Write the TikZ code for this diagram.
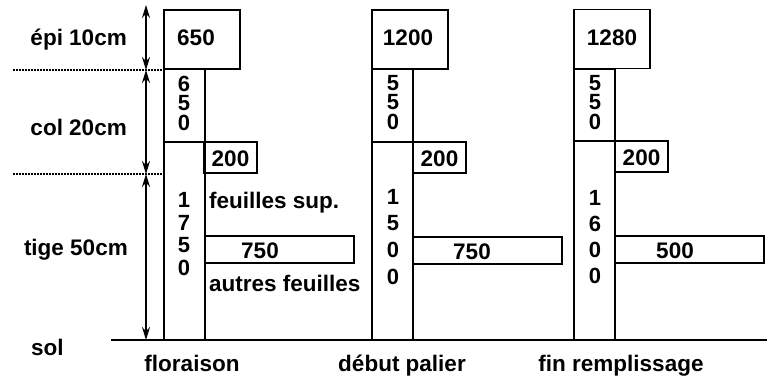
\documentclass[tikz,border=0pt]{standalone}
\usepackage{fontspec}
\setmainfont{Liberation Sans}
\usetikzlibrary{arrows.meta}
\tikzset{
  box/.style={draw, line width=1.8pt, inner sep=0pt, outer sep=0pt},
  lab/.style={font=\fontsize{22.5}{26}\selectfont\bfseries, inner sep=0pt},
  dig/.style={font=\fontsize{22}{26}\selectfont\bfseries, inner sep=0pt},
  dimarrow/.style={line width=1.8pt, {Stealth[length=13pt,width=8pt]}-{Stealth[length=13pt,width=8pt]}},
  guide/.style={line width=1.3pt, dash pattern=on 1.6pt off 1.4pt},
  groundline/.style={line width=2.6pt},
}
\begin{document}
\begin{tikzpicture}[x=1pt,y=-1pt]
\useasboundingbox (0,0) rectangle (767,376);
% ground
\coordinate (g0) at (111,340);
\coordinate (g1) at (767,340);
% ---- column 1 : floraison
\node[box, minimum width=41pt, minimum height=271pt] (s1) at (184.5,204.5) {};
\node[box, minimum width=76pt, minimum height=59pt] (e1) at (202,39.5) {};
\coordinate (c1) at (164,142);
\draw[box] (c1) -- (c1 -| s1.east);
\node[box, minimum width=53pt, minimum height=31pt] (b1) at (230.5,157.5) {};
\node[box, minimum width=149pt, minimum height=27pt] (f1) at (279.5,249.5) {};
\node[lab, anchor=base] (e1t) at (196,45.5) {650};
\foreach \d [count=\i] in {6,5,0}
  \node[dig] (k1-\i) at (184,{84+19.5*(\i-1)}) {\d};
\foreach \d [count=\i] in {1,7,5,0}
  \node[dig] (t1-\i) at (184,{200+22.5*(\i-1)}) {\d};
\node[lab, anchor=base] (b1t) at (b1.center |- 0,166) {200};
\node[lab, anchor=base] (f1t) at (260,258) {750};
\node[lab, anchor=base west] (fs) at (209,208) {feuilles sup.};
\node[lab, anchor=base west] (af) at (209,291) {autres feuilles};
% ---- column 2 : debut palier
\node[box, minimum width=41pt, minimum height=271pt] (s2) at (392.5,204.5) {};
\node[box, minimum width=76pt, minimum height=59pt] (e2) at (410,39.5) {};
\coordinate (c2) at (372,142);
\draw[box] (c2) -- (c2 -| s2.east);
\node[box, minimum width=53pt, minimum height=31pt] (b2) at (439.5,157.5) {};
\node[box, minimum width=149pt, minimum height=27pt] (f2) at (487.5,250.5) {};
\node[lab, anchor=base] (e2t) at (408,45.5) {1200};
\foreach \d [count=\i] in {5,5,0}
  \node[dig] (k2-\i) at (393,{83+19.5*(\i-1)}) {\d};
\foreach \d [count=\i] in {1,5,0,0}
  \node[dig] (t2-\i) at (393,{197+26.5*(\i-1)}) {\d};
\node[lab, anchor=base] (b2t) at (b2.center |- 0,166) {200};
\node[lab, anchor=base] (f2t) at (472,259) {750};
% ---- column 3 : fin remplissage
\node[box, minimum width=41pt, minimum height=271pt] (s3) at (594.5,204.5) {};
\node[box, minimum width=76pt, minimum height=59pt] (e3) at (612,39) {};
\coordinate (c3) at (574,141);
\draw[box] (c3) -- (c3 -| s3.east);
\node[box, minimum width=53pt, minimum height=31pt] (b3) at (641.5,156.5) {};
\node[box, minimum width=149pt, minimum height=27pt] (f3) at (689.5,249.5) {};
\node[lab, anchor=base] (e3t) at (612,45) {1280};
\foreach \d [count=\i] in {5,5,0}
  \node[dig] (k3-\i) at (595,{83+19.5*(\i-1)}) {\d};
\foreach \d [count=\i] in {1,6,0,0}
  \node[dig] (t3-\i) at (595,{198+26*(\i-1)}) {\d};
\node[lab, anchor=base] (b3t) at (b3.center |- 0,165) {200};
\node[lab, anchor=base] (f3t) at (675,258) {500};
% ground drawn over stems
\draw[groundline] (g0) -- (g1);
% ---- guides and dimension arrows
\coordinate (d1) at (13,70);
\coordinate (d2) at (13,174);
\draw[guide] (d1) -- (d1 -| s1.west);
\draw[guide] (d2) -- (d2 -| s1.west);
\coordinate (a0) at (146,5);
\coordinate (a1) at (146,70);
\coordinate (a2) at (146,174);
\coordinate (a3) at (146,340);
\draw[dimarrow] (a0) -- (a1);
\draw[dimarrow] (a1) -- (a2);
\draw[dimarrow] (a2) -- (a3);
% ---- left labels
\node[lab, anchor=base east] (lepi) at (127,45.5) {épi 10cm};
\node[lab, anchor=base east] (lcol) at (127,135.5) {col 20cm};
\node[lab, anchor=base east] (ltig) at (128,255.5) {tige 50cm};
\node[lab, anchor=base west] (lsol) at (31,355.5) {sol};
% ---- bottom labels
\node[lab, anchor=base] (n1) at (192,371) {floraison};
\node[lab, anchor=base] (n2) at (402,371) {début palier};
\node[lab, anchor=base] (n3) at (621,371) {fin remplissage};
\end{tikzpicture}
\end{document}
